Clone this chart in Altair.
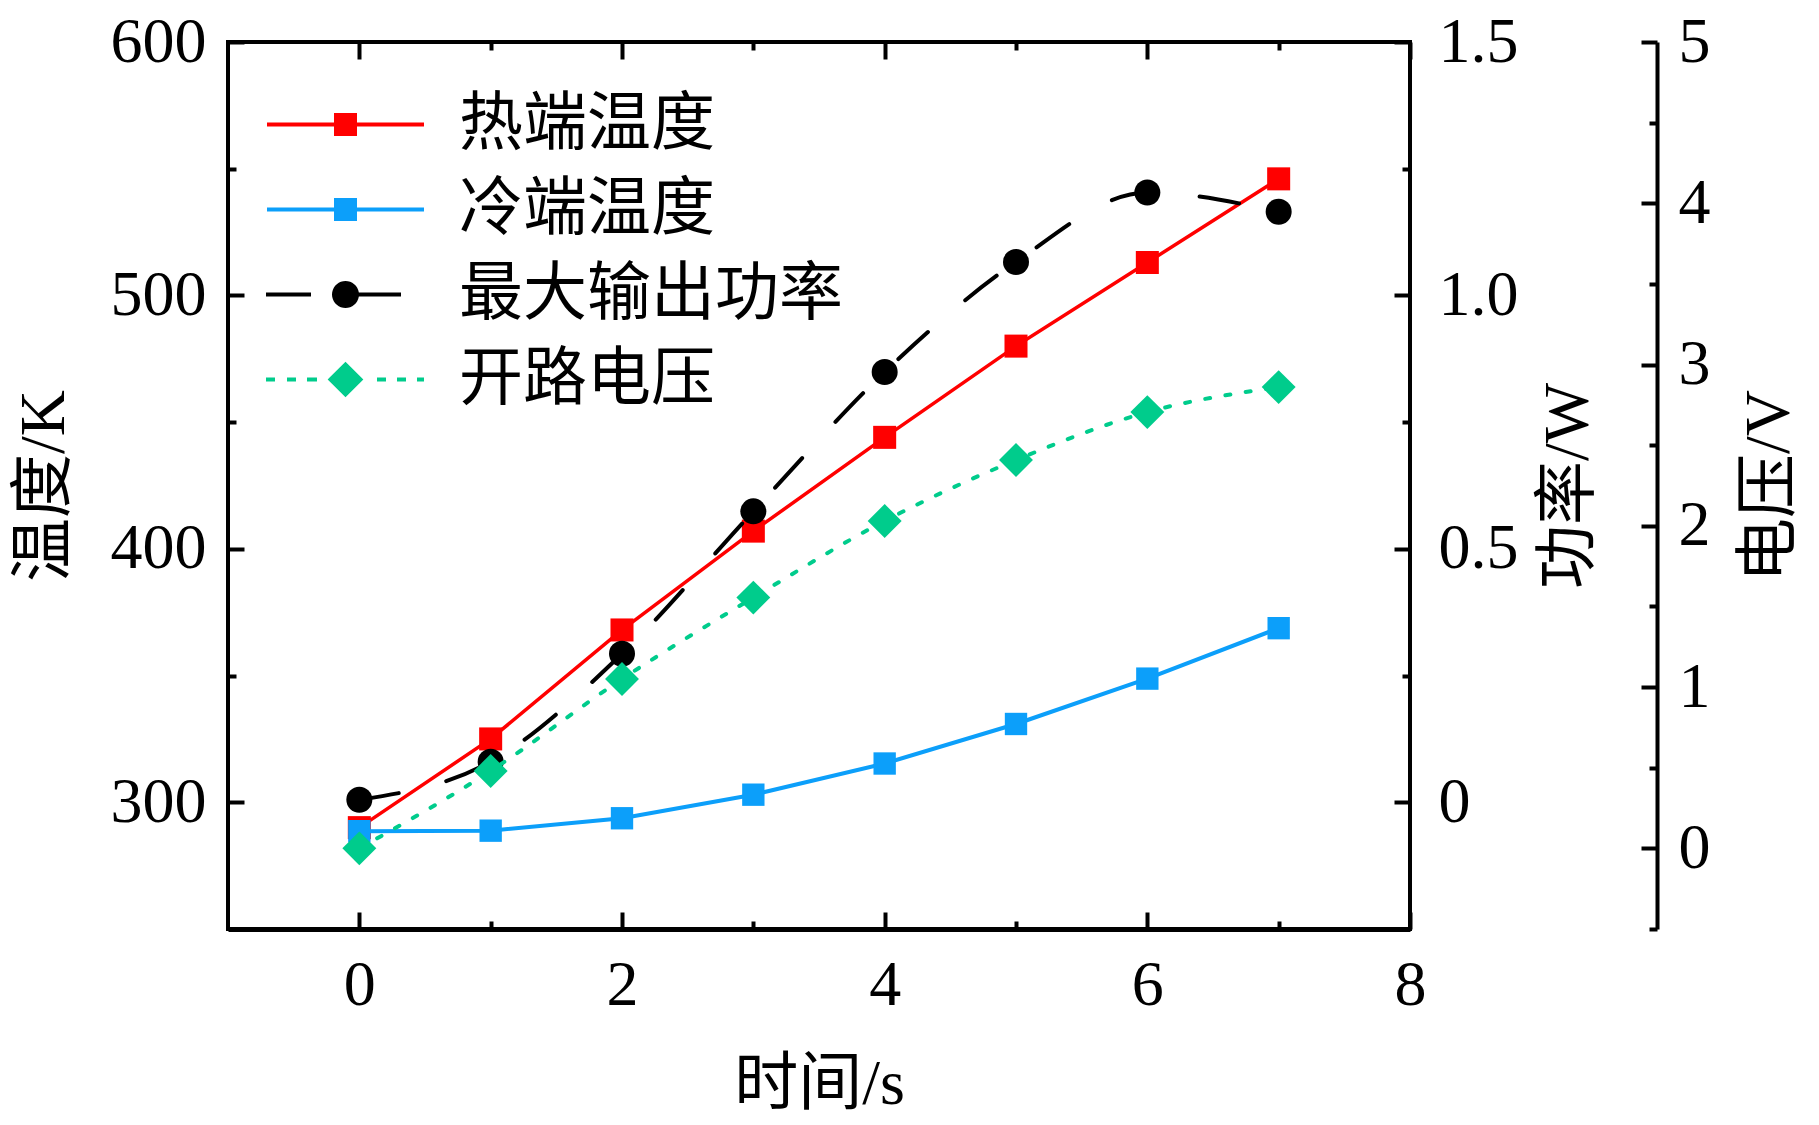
import math
import altair as alt
import pandas as pd

# ---------------- data ----------------
time_s = [0, 1, 2, 3, 4, 5, 6, 7]
hot_K = [290, 325, 368, 407, 444, 480, 513, 546]
cold_K = [288.6, 288.8, 293.7, 303.0, 315.3, 330.9, 348.8, 368.7]
power_W = [0.005, 0.08, 0.293, 0.574, 0.849, 1.066, 1.203, 1.165]
voltage_V = [0.0, 0.48, 1.05, 1.555, 2.03, 2.408, 2.705, 2.86]

series_names = ["热端温度", "冷端温度", "最大输出功率", "开路电压"]
series_colors = ["#ff0000", "#0c9ffa", "#000000", "#00cc8c"]

x_major = [0, 2, 4, 6, 8]
x_minor = [1, 3, 5, 7]
temp_major = [300, 400, 500, 600]
temp_minor = [350, 450, 550]
power_major = [0, 0.5, 1.0, 1.5]
power_minor = [0.25, 0.75, 1.25]
volt_major = [0, 1, 2, 3, 4, 5]
volt_minor = [-0.5, 0.5, 1.5, 2.5, 3.5, 4.5]

df = pd.DataFrame({"t": time_s, "hot": hot_K, "cold": cold_K,
                   "power": power_W, "voltage": voltage_V})
legend_df = pd.DataFrame({"series": series_names})

FONT = "Liberation Serif, Noto Sans CJK SC"
FS = 64
W, H = 1182, 887
RED, BLUE, BLACK, GREEN = series_colors

xs = alt.Scale(domain=[-1, 8], nice=False, zero=False)
ts = alt.Scale(domain=[250, 600], nice=False, zero=False)
ps = alt.Scale(domain=[-0.25, 1.5], nice=False, zero=False)
vs = alt.Scale(domain=[-0.5, 5], nice=False, zero=False)


def label_axis(orient, values, title, **kw):
    return alt.Axis(orient=orient, values=values, ticks=False, tickSize=0,
                    grid=False, labels=True, labelFont=FONT, labelFontSize=FS,
                    labelColor="black", labelFlush=False, labelOverlap=False,
                    title=title, titleFont=FONT, titleFontSize=FS,
                    titleFontWeight="normal", titleColor="black", **kw)


def tick_axis(orient, values, size, offset):
    return alt.Axis(orient=orient, values=values, ticks=True, tickSize=size,
                    tickWidth=4, tickColor="black", offset=offset,
                    domain=False, grid=False, labels=False, title=None)


ax_bottom = label_axis("bottom", x_major, "时间/s", domain=True, domainWidth=5,
                       domainColor="black",
                       labelPadding=24, titleX=W / 2, titleY=155,
                       titleBaseline="middle", titleAlign="center")
ax_bottom_major = tick_axis("bottom", x_major, 17, -17)
ax_bottom_minor = tick_axis("bottom", x_minor, 8, -8)
ax_top_major = tick_axis("top", x_major, 17, -17)
ax_top_minor = tick_axis("top", x_minor, 8, -8)

ax_temp = label_axis("left", temp_major, "温度/K", domain=False, format="d",
                     labelPadding=22, titleX=-184, titleY=H / 2,
                     titleAngle=270, titleBaseline="middle", titleAlign="center")
ax_temp_major = tick_axis("left", temp_major, 16, -16)
ax_temp_minor = tick_axis("left", temp_minor, 8, -8)

ax_power = label_axis("right", power_major, "功率/W", domain=False,
                      labelExpr="datum.value == 0 ? '0' : format(datum.value, '.1f')",
                      labelPadding=28, titleX=158, titleY=H / 2,
                      titleAngle=270, titleBaseline="middle", titleAlign="center")
ax_power_major = tick_axis("right", power_major, 16, -16)
ax_power_minor = tick_axis("right", power_minor, 8, -8)

VOFF = 247
ax_volt = label_axis("right", volt_major, "电压/V", domain=True, domainWidth=4,
                     domainColor="black", offset=VOFF, format="d",
                     labelPadding=21, titleX=112, titleY=H / 2,
                     titleAngle=270, titleBaseline="middle", titleAlign="center")
ax_volt_major = tick_axis("right", volt_major, 16, VOFF - 16)
ax_volt_minor = tick_axis("right", volt_minor, 8, VOFF - 8)

base = alt.Chart(df)


def X(axis):
    return alt.X("t:Q", scale=xs, axis=axis)


hot_line = base.mark_line(color=RED, strokeWidth=3.5).encode(
    x=X(ax_bottom), y=alt.Y("hot:Q", scale=ts, axis=ax_temp))
hot_pts = base.mark_point(shape="square", filled=True, size=530, color=RED, opacity=1).encode(
    x=X(ax_bottom_major), y=alt.Y("hot:Q", scale=ts, axis=ax_temp_major))
cold_line = base.mark_line(color=BLUE, strokeWidth=4).encode(
    x=X(ax_bottom_minor), y=alt.Y("cold:Q", scale=ts, axis=ax_temp_minor))
cold_pts = base.mark_point(shape="square", filled=True, size=500, color=BLUE, opacity=1).encode(
    x=X(ax_top_major), y=alt.Y("cold:Q", scale=ts, axis=None))
power_line = base.mark_line(color=BLACK, strokeWidth=4, strokeDash=[40, 49],
                            strokeCap="round", interpolate="monotone").encode(
    x=X(ax_top_minor), y=alt.Y("power:Q", scale=ps, axis=ax_power))
power_pts = base.mark_point(shape="circle", filled=True, size=676, color=BLACK, opacity=1).encode(
    x=X(None), y=alt.Y("power:Q", scale=ps, axis=ax_power_major))
power_aux = base.mark_point(opacity=0).encode(
    x=X(None), y=alt.Y("power:Q", scale=ps, axis=ax_power_minor))
volt_line = base.mark_line(color=GREEN, strokeWidth=4, strokeDash=[5, 15.5],
                           strokeCap="round", interpolate="monotone").encode(
    x=X(None), y=alt.Y("voltage:Q", scale=vs, axis=ax_volt))
volt_pts = base.mark_point(shape="diamond", filled=True, size=1150, color=GREEN, opacity=1).encode(
    x=X(None), y=alt.Y("voltage:Q", scale=vs, axis=ax_volt_major))
volt_aux = base.mark_point(opacity=0).encode(
    x=X(None), y=alt.Y("voltage:Q", scale=vs, axis=ax_volt_minor))

# ---------------- legend glyphs (line + marker drawn as one symbol path) ----------------
HALF = 78.5     # half length of the legend line, px
MID = 345.5     # centre of the legend glyph in reference px


def u(p):
    return (p - MID) / HALF


def seg(a, b):
    return "M%.4f,0L%.4f,0" % (u(a), u(b))


def square(h):
    k = h / HALF
    return "M%.4f,%.4fL%.4f,%.4fL%.4f,%.4fL%.4f,%.4fZ" % (-k, -k, k, -k, k, k, -k, k)


def circle(r, n=36):
    k = r / HALF
    pts = [(k * math.cos(2 * math.pi * i / n), k * math.sin(2 * math.pi * i / n)) for i in range(n)]
    return "M" + "L".join("%.4f,%.4f" % p for p in pts) + "Z"


def diamond(h):
    k = h / HALF
    return "M%.4f,0L0,%.4fL%.4f,0L0,%.4fZ" % (-k, -k, k, k)


legend_shapes = [
    seg(267, 424) + square(9.5),
    seg(267, 424) + square(9.5),
    seg(266, 311) + seg(356, 401) + circle(11.5),
    "".join(seg(a, b) for a, b in [(266, 275), (287, 296), (307, 317),
                                   (377, 386), (397, 406), (417, 424)]) + diamond(15),
]

leg = alt.Legend(orient="none", legendX=37, legendY=40, title=None, padding=0,
                 rowPadding=0, clipHeight=85, symbolSize=(2 * HALF) ** 2,
                 symbolStrokeWidth=4, symbolOpacity=1, labelOffset=33,
                 labelFont=FONT, labelFontSize=FS, labelColor="black",
                 labelLimit=1000)

legend_layer = alt.Chart(legend_df).transform_filter("false").mark_point(
    filled=True, opacity=1).encode(
    fill=alt.Fill("series:N", scale=alt.Scale(domain=series_names, range=series_colors), legend=leg),
    stroke=alt.Stroke("series:N", scale=alt.Scale(domain=series_names, range=series_colors), legend=leg),
    shape=alt.Shape("series:N", scale=alt.Scale(domain=series_names, range=legend_shapes), legend=leg),
)

chart = alt.layer(
    hot_line, hot_pts, cold_line, cold_pts,
    power_line, power_pts, power_aux,
    volt_line, volt_pts, volt_aux,
    legend_layer,
).resolve_scale(
    x="independent", y="independent"
).properties(
    width=W, height=H,
    autosize=alt.AutoSizeParams(type="none"),
    padding={"left": 220, "top": 34, "right": 390, "bottom": 186},
    background="white",
).configure_view(
    stroke="black", strokeWidth=4
)

chart.save("out.html", embed_options={"renderer": "svg", "actions": False})
